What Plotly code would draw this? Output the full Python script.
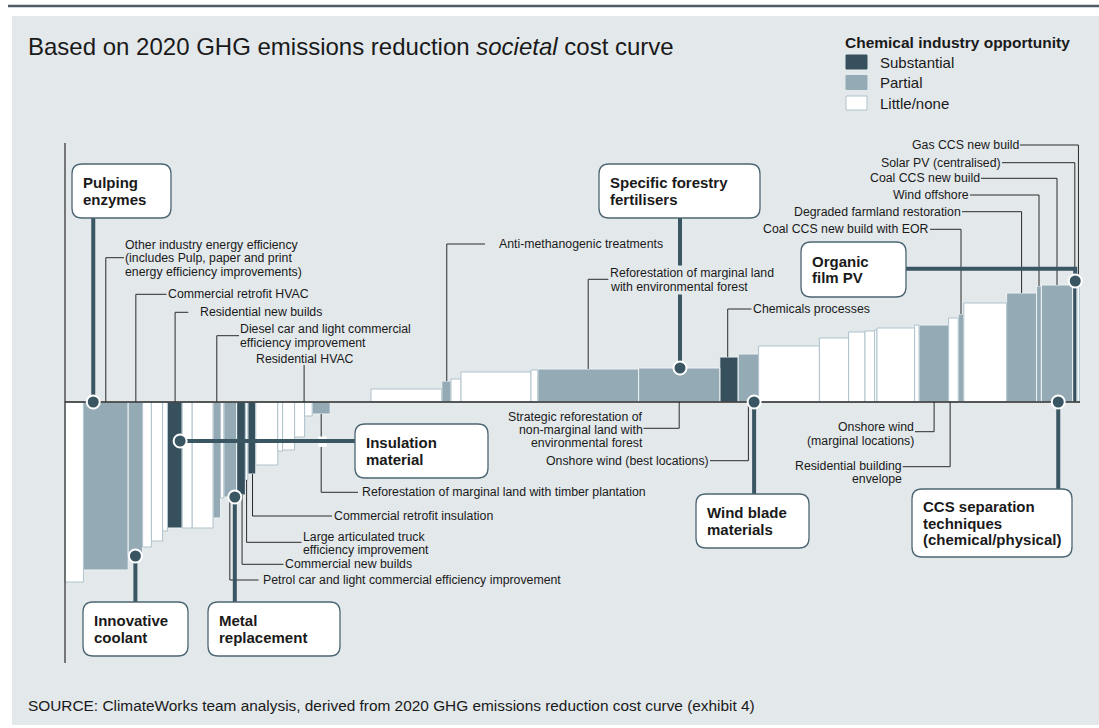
import plotly.graph_objects as go

# ---------------- data ----------------
lever_names = [
    "", "Other industry energy efficiency", "Commercial retrofit HVAC", "", "", "",
    "Residential new builds", "", "", "Diesel car and light commercial efficiency improvement", "",
    "Petrol car and light commercial efficiency improvement", "Commercial new builds",
    "Large articulated truck efficiency improvement", "Commercial retrofit insulation", "", "", "",
    "Residential HVAC", "", "Reforestation of marginal land with timber plantation",
    "Near-zero cost levers", "", "Anti-methanogenic treatments", "", "", "",
    "Reforestation of marginal land with environmental forest",
    "Strategic reforestation of non-marginal land with environmental forest",
    "Chemicals processes", "Onshore wind (best locations)", "", "", "", "", "", "", "",
    "Onshore wind (marginal locations)", "Residential building envelope",
    "Coal CCS new build with EOR", "", "Degraded farmland restoration", "Wind offshore",
    "Coal CCS new build", "Solar PV (centralised)", "Gas CCS new build",
]
lever_category = [
    "Little/none", "Partial", "Partial", "Little/none", "Little/none", "Little/none",
    "Substantial", "Little/none", "Little/none", "Partial", "Little/none",
    "Partial", "Substantial", "Little/none", "Substantial", "Little/none", "Little/none", "Little/none",
    "Little/none", "Little/none", "Partial",
    "Little/none", "Little/none", "Partial", "Little/none", "Little/none", "Little/none",
    "Partial", "Partial", "Substantial", "Partial", "Little/none", "Little/none", "Little/none",
    "Little/none", "Little/none", "Little/none", "Little/none",
    "Partial", "Little/none", "Partial", "Little/none", "Partial", "Partial",
    "Partial", "Substantial", "Little/none",
]
abatement_mt = [
    4.6, 11.2, 3.6, 2.2, 2.8, 1.2, 3.7, 2.5, 5.2, 1.9, 0.8, 3.2, 2.2, 0.6, 2.0, 5.5, 1.2, 3.0,
    2.5, 1.9, 4.5, 10.2, 17.7, 2.3, 2.5, 17.5, 1.7, 25.2, 20.3, 4.6, 5.1, 15.2, 7.3, 4.1, 2.4,
    0.6, 9.4, 1.1, 7.4, 2.4, 1.4, 10.7, 7.5, 1.2, 7.8, 1.1, 0.6,
]
cost_per_t = [
    -180, -168, -154, -145, -139, -129, -126, -126, -126, -116, -96, -95, -93, -78, -72, -63,
    -49, -48, -35, -14, -12, 0, 13, 21, 23, 30, 32, 33, 34, 45, 48, 56, 64, 70, 71, 72, 74, 77,
    77, 84, 88, 99, 109, 116, 117, 121, 126,
]
legend_categories = ["Substantial", "Partial", "Little/none"]
category_colors = {"Substantial": "#36515d", "Partial": "#94abb6", "Little/none": "#ffffff"}
category_edges = {"Substantial": "#eef2f4", "Partial": "#eef2f4", "Little/none": "#aec2cc"}

title_html = "Based on 2020 GHG emissions reduction <i>societal</i> cost curve"
legend_title = "Chemical industry opportunity"
source_text = ("SOURCE: ClimateWorks team analysis, derived from 2020 GHG emissions "
               "reduction cost curve (exhibit 4)")

# ---------------- geometry helpers ----------------
W, H = 1099, 728
X0_PX, PX_PER_MT = 65.0, 4.0
ZERO_PX, PX_PER_COST = 402.0, 1.0


def X(px):
    return (px - X0_PX) / PX_PER_MT


def Y(py):
    return (ZERO_PX - py) / PX_PER_COST


lefts = []
acc = 0.0
for w in abatement_mt:
    lefts.append(acc)
    acc += w


def lx(name, frac):
    i = lever_names.index(name)
    return lefts[i] + frac * abatement_mt[i]


def lcost(name):
    return cost_per_t[lever_names.index(name)]


FONT = "Liberation Sans, Arial, Helvetica, sans-serif"
DARK = "#3a5663"
LINE = "#2a2a2a"
PANEL = "#e3e8eb"
LABEL_SIZE = 12.3

fig = go.Figure()

# ---------------- bars ----------------
for cat in legend_categories:
    idx = [i for i in range(len(lever_names)) if lever_category[i] == cat and cost_per_t[i] != 0]
    fig.add_trace(go.Bar(
        x=[lefts[i] + abatement_mt[i] / 2 for i in idx],
        y=[cost_per_t[i] for i in idx],
        width=[abatement_mt[i] for i in idx],
        marker=dict(color=category_colors[cat], line=dict(color=category_edges[cat], width=1)),
        hovertext=[lever_names[i] for i in idx],
        hoverinfo="text",
        showlegend=False,
        name=cat,
    ))

shapes = []
annotations = []

# background panel and top rule
shapes.append(dict(type="rect", xref="x", yref="y", x0=X(12), x1=X(1099), y0=Y(16), y1=Y(725),
                   fillcolor=PANEL, line=dict(width=0), layer="below"))
shapes.append(dict(type="line", xref="x", yref="y", x0=X(8), x1=X(1099), y0=Y(6), y1=Y(6),
                   line=dict(color="#4f5c65", width=2.5), layer="below"))

# axes
shapes.append(dict(type="line", x0=0, x1=0, y0=Y(663), y1=Y(143), line=dict(color=LINE, width=1.2)))
shapes.append(dict(type="line", x0=0, x1=X(1080), y0=0, y1=0, line=dict(color=LINE, width=1.5)))


def seg(x0, y0, x1, y1, color=LINE, width=1.0):
    shapes.append(dict(type="line", x0=x0, y0=y0, x1=x1, y1=y1, line=dict(color=color, width=width)))


def text(s, px, py, anchor="left", size=LABEL_SIZE, bold=False, bg=None):
    if bold:
        s = "<b>" + s + "</b>"
    a = dict(x=X(px), y=Y(py), text=s, showarrow=False, xanchor=anchor, yanchor="middle",
             font=dict(family=FONT, size=size, color="#1a1a1a"), align=anchor, borderpad=0)
    if bg:
        a["bgcolor"] = bg
    annotations.append(a)


# ---------------- thin leader labels ----------------
# (lever, fraction across bar, start at 'zero' or bar 'end', elbow y px, line end x px,
#  text x px, first text line y px, anchor, lines)
leaders = [
    ("Other industry energy efficiency", 0.5, "zero", 257.7, 124, 124, 245, "left",
     ["Other industry energy efficiency", "(includes Pulp, paper and print",
      "energy efficiency improvements)"]),
    ("Commercial retrofit HVAC", 0.53, "zero", 294.3, 166.5, 166.5, 294.3, "left",
     ["Commercial retrofit HVAC"]),
    ("Residential new builds", 0.52, "zero", 312.3, 188.3, 199, 312.3, "left",
     ["Residential new builds"]),
    ("Diesel car and light commercial efficiency improvement", 0.5, "zero", 335.7, 239, 239, 329.3,
     "left", ["Diesel car and light commercial", "efficiency improvement"]),
    ("Reforestation of marginal land with timber plantation", 0.5, "end", 492.3, 358, 361, 492.3,
     "left", ["Reforestation of marginal land with timber plantation"]),
    ("Commercial retrofit insulation", 0.59, "end", 516, 332, 333, 516, "left",
     ["Commercial retrofit insulation"]),
    ("Large articulated truck efficiency improvement", 0.5, "end", 542.3, 301.5, 302, 536.5, "left",
     ["Large articulated truck", "efficiency improvement"]),
    ("Commercial new builds", 0.62, "end", 564.3, 283.5, 283.5, 564.3, "left",
     ["Commercial new builds"]),
    ("Petrol car and light commercial efficiency improvement", 0.47, "end", 580, 258.5, 262, 580,
     "left", ["Petrol car and light commercial efficiency improvement"]),
    ("Anti-methanogenic treatments", 0.54, "end", 244, 485, 497.7, 244, "left",
     ["Anti-methanogenic treatments"]),
    ("Reforestation of marginal land with environmental forest", 0.5, "end", 279.3, 608.3, 609,
     273.3, "left", ["Reforestation of marginal land", "with environmental forest"]),
    ("Chemicals processes", 0.43, "end", 309, 751.5, 751.5, 309, "left", ["Chemicals processes"]),
    ("Strategic reforestation of non-marginal land with environmental forest", 0.5, "zero", 428.3,
     643.5, 643.5, 416.5, "right",
     ["Strategic reforestation of", "non-marginal land with", "environmental forest"]),
    ("Onshore wind (best locations)", 0.5, "zero", 460.7, 710, 710, 460.7, "right",
     ["Onshore wind (best locations)"]),
    ("Onshore wind (marginal locations)", 0.51, "zero", 431.7, 915, 915, 427.3, "right",
     ["Onshore wind", "(marginal locations)"]),
    ("Residential building envelope", 0.16, "zero", 466.7, 902.7, 902.7, 465.7, "right",
     ["Residential building", "envelope"]),
    ("Gas CCS new build", 0.6, "end", 145, 1020, 1020, 145, "right", ["Gas CCS new build"]),
    ("Solar PV (centralised)", 0.5, "end", 162.7, 1002, 1002, 162.7, "right",
     ["Solar PV (centralised)"]),
    ("Coal CCS new build", 0.5, "end", 178.3, 981, 981, 178.3, "right", ["Coal CCS new build"]),
    ("Wind offshore", 0.5, "end", 195, 970, 970, 195, "right", ["Wind offshore"]),
    ("Degraded farmland restoration", 0.5, "end", 211.7, 962, 962, 211.7, "right",
     ["Degraded farmland restoration"]),
    ("Coal CCS new build with EOR", 0.5, "end", 229.3, 930, 930, 229.3, "right",
     ["Coal CCS new build with EOR"]),
]
for name, frac, start, ely, lex, tx, ty, anch, lines in leaders:
    xb = lx(name, frac)
    y_start = 0 if start == "zero" else lcost(name)
    seg(xb, y_start, xb, Y(ely))
    seg(xb, Y(ely), X(lex), Y(ely))
    for k, ln in enumerate(lines):
        text(ln, tx, ty + k * 13.3, anchor=anch,
             bg=PANEL if name.startswith("Reforestation of marginal land with env") else None)

# Residential HVAC: vertical leader only, label centred above
xb = lx("Residential HVAC", 0.95)
seg(xb, 0, xb, Y(365))
text("Residential HVAC", 304.5, 359.3, anchor="center")

# small bridge where the timber-plantation leader passes under the insulation connector
shapes.append(dict(type="rect", x0=X(318.3), x1=X(326.7), y0=Y(447), y1=Y(436.5),
                   fillcolor="#ffffff", line=dict(width=0)))

# ---------------- callouts (thick connectors, markers, rounded boxes) ----------------
markers = []


def thick_path(points):
    d = "M " + " L ".join(f"{px},{py}" for px, py in points)
    shapes.append(dict(type="path", path=d, line=dict(color=DARK, width=4)))


# Pulping enzymes
mx, my = lx("Other industry energy efficiency", 0.22), 0
thick_path([(mx, my), (mx, Y(218))]); markers.append((mx, my))
# Innovative coolant
mx = lx("Commercial retrofit HVAC", 0.5); my = lcost("Commercial retrofit HVAC")
thick_path([(mx, my), (mx, Y(602))]); markers.append((mx, my))
# Metal replacement
mx = lx("Petrol car and light commercial efficiency improvement", 0.86)
my = lcost("Petrol car and light commercial efficiency improvement")
thick_path([(mx, my), (mx, Y(602))]); markers.append((mx, my))
# Insulation material
mx, my = lx("Residential new builds", 0.86), Y(441)
thick_path([(mx, my), (X(355), my)]); markers.append((mx, my))
# Specific forestry fertilisers
mx = lx("Strategic reforestation of non-marginal land with environmental forest", 0.51)
my = lcost("Strategic reforestation of non-marginal land with environmental forest")
thick_path([(mx, my), (mx, Y(218))]); markers.append((mx, my))
# Organic film PV
mx, my = lx("Solar PV (centralised)", 0.6), lcost("Solar PV (centralised)")
thick_path([(mx, my), (mx, Y(268.7)), (X(906), Y(268.7))]); markers.append((mx, my))
# Wind blade materials
mx, my = lx("Onshore wind (best locations)", 0.78), 0
thick_path([(mx, my), (mx, Y(494))]); markers.append((mx, my))
# CCS separation techniques
mx, my = lx("Coal CCS new build", 0.54), 0
thick_path([(mx, my), (mx, Y(489))]); markers.append((mx, my))

rx, ry = 6.5 / PX_PER_MT, 6.5 / PX_PER_COST
for mx, my in markers:
    shapes.append(dict(type="circle", x0=mx - rx, x1=mx + rx, y0=my - ry, y1=my + ry,
                       fillcolor=DARK, line=dict(color="#ffffff", width=2)))

callouts = [
    (["Pulping", "enzymes"], 72, 164, 171, 218),
    (["Innovative", "coolant"], 83, 602, 188, 656),
    (["Metal", "replacement"], 208, 602, 340, 656),
    (["Insulation", "material"], 355, 424, 488, 478),
    (["Specific forestry", "fertilisers"], 599, 164, 760, 218),
    (["Organic", "film PV"], 801, 242, 906, 297),
    (["Wind blade", "materials"], 696, 494, 809, 548),
    (["CCS separation", "techniques", "(chemical/physical)"], 912, 489, 1072, 557),
]
R = 10
for lines, x0p, y0p, x1p, y1p in callouts:
    pts = [
        ("M", x0p + R, y0p), ("L", x1p - R, y0p), ("Q", x1p, y0p, x1p, y0p + R),
        ("L", x1p, y1p - R), ("Q", x1p, y1p, x1p - R, y1p), ("L", x0p + R, y1p),
        ("Q", x0p, y1p, x0p, y1p - R), ("L", x0p, y0p + R), ("Q", x0p, y0p, x0p + R, y0p),
    ]
    d = ""
    for p in pts:
        if p[0] == "Q":
            d += f"Q {X(p[1])},{Y(p[2])} {X(p[3])},{Y(p[4])} "
        else:
            d += f"{p[0]} {X(p[1])},{Y(p[2])} "
    d += "Z"
    shapes.append(dict(type="path", path=d, fillcolor="#ffffff",
                       line=dict(color="#4d6673", width=1.3)))
    cy = (y0p + y1p) / 2
    n = len(lines)
    for k, ln in enumerate(lines):
        text(ln, x0p + 10, cy + (k - (n - 1) / 2) * 16.6, size=15, bold=True)

# ---------------- title, legend, source ----------------
text(title_html, 27, 46, size=24)
text(legend_title, 844, 42.3, size=15.5, bold=True)
for k, cat in enumerate(legend_categories):
    ytop = 55 + 20.5 * k
    shapes.append(dict(type="rect", x0=X(846), x1=X(867), y0=Y(ytop + 14), y1=Y(ytop),
                       fillcolor=category_colors[cat],
                       line=dict(color="#aec2cc" if cat == "Little/none" else category_colors[cat],
                                 width=1)))
    text(cat, 879, ytop + 7.3, size=15)
text(source_text, 27, 705, size=15.4)

fig.update_layout(
    width=W, height=H, autosize=False,
    margin=dict(l=0, r=0, t=0, b=0, pad=0),
    paper_bgcolor="#ffffff", plot_bgcolor="rgba(0,0,0,0)",
    barmode="overlay",
    xaxis=dict(visible=False, range=[X(0), X(W)], fixedrange=True),
    yaxis=dict(visible=False, range=[Y(H), Y(0)], fixedrange=True),
    shapes=shapes, annotations=annotations,
    showlegend=False,
)

fig.write_html(
    "out.html",
    config={"displayModeBar": False, "staticPlot": True},
    post_script="document.body.style.margin='0px';document.body.style.padding='0px';"
                "document.body.style.overflow='hidden';",
)
